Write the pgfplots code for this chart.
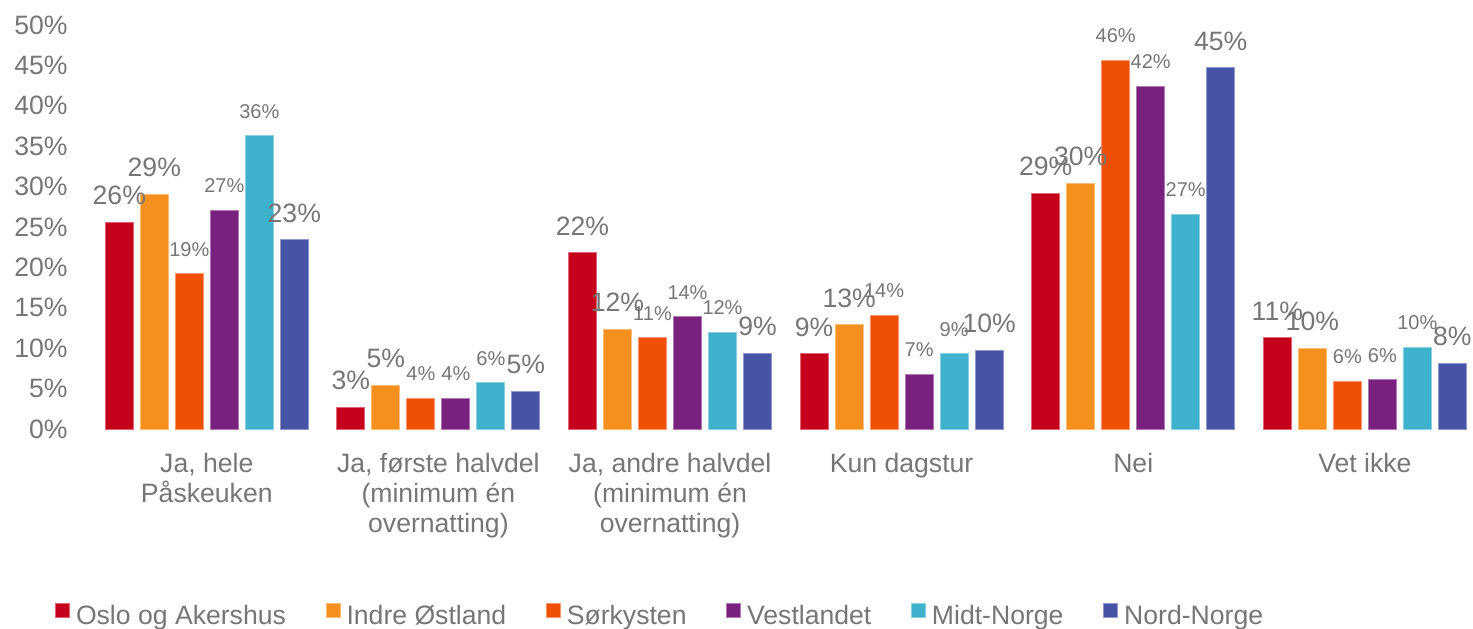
\documentclass[border=0pt]{standalone}
\usepackage{pgfplots}
\pgfplotsset{compat=1.18}
\usepackage{fontspec}
\setmainfont{Liberation Sans}
\definecolor{oslo}{HTML}{C5001A}
\definecolor{indre}{HTML}{F5901F}
\definecolor{sor}{HTML}{F05006}
\definecolor{vest}{HTML}{7A2180}
\definecolor{midt}{HTML}{3EB1CC}
\definecolor{nord}{HTML}{4754A5}
\definecolor{txt}{HTML}{767676}
\newcommand{\lab}{\fontsize{13.3}{15}\selectfont}
\newcommand{\slab}{\fontsize{10}{12}\selectfont}
\begin{document}
\begin{tikzpicture}
\begin{axis}[
  scale only axis, width=691pt, height=202pt,
  ymin=0, ymax=50, xmin=-0.5, xmax=5.467,
  ybar=3.5pt, bar width=14pt,
  axis line style={draw=none}, major tick length=0pt,
  ytick={0,5,...,50},
  yticklabels={0\%,5\%,10\%,15\%,20\%,25\%,30\%,35\%,40\%,45\%,50\%},
  yticklabel style={font=\lab, text=txt, inner sep=0pt, anchor=east},
  yticklabel shift=11.5pt,
  xtick={0,...,5},
  xticklabels={{Ja, hele\\Påskeuken},{Ja, første halvdel\\(minimum én\\overnatting)},{Ja, andre halvdel\\(minimum én\\overnatting)},{Kun dagstur},{Nei},{Vet ikke}},
  xticklabel style={font=\lab, text=txt, align=center, inner sep=0pt, anchor=north},
  xticklabel shift=12pt,
  point meta=y,
  nodes near coords={\pgfmathprintnumber{\pgfplotspointmeta}\%},
  nodes near coords style={text=txt, inner sep=0pt, anchor=south, yshift=8.5pt},
  /pgf/number format/fixed, /pgf/number format/precision=0, /pgf/number format/assume math mode=true,
  clip=false,
  legend columns=6,
  legend style={at={(-0.02605,-0.4604)}, anchor=west, draw=none, fill=none, inner sep=0pt, outer sep=0pt, font=\lab, text=txt,
    nodes={inner sep=0pt},
    /tikz/every odd column/.append style={column sep=3pt},
    /tikz/every even column/.append style={column sep=19.8pt}},
  legend image code/.code={\fill[#1] (0pt,-0.5pt) rectangle (7pt,6.5pt);},
]
\addplot[fill=oslo, draw=oslo!60!white, line width=0.5pt, every node near coord/.append style={font=\lab}] coordinates {(0,25.6)(1,2.7)(2,21.8)(3,9.3)(4,29.2)(5,11.3)};
\addplot[fill=indre, draw=indre!60!white, line width=0.5pt, every node near coord/.append style={font=\lab}] coordinates {(0,29.0)(1,5.4)(2,12.3)(3,12.9)(4,30.4)(5,10.0)};
\addplot[fill=sor, draw=sor!60!white, line width=0.5pt, every node near coord/.append style={font=\slab}] coordinates {(0,19.2)(1,3.8)(2,11.3)(3,14.1)(4,45.6)(5,5.9)};
\addplot[fill=vest, draw=vest!60!white, line width=0.5pt, every node near coord/.append style={font=\slab}] coordinates {(0,27.1)(1,3.8)(2,13.9)(3,6.8)(4,42.4)(5,6.1)};
\addplot[fill=midt, draw=midt!60!white, line width=0.5pt, every node near coord/.append style={font=\slab}] coordinates {(0,36.3)(1,5.7)(2,12.0)(3,9.3)(4,26.6)(5,10.1)};
\addplot[fill=nord, draw=nord!60!white, line width=0.5pt, every node near coord/.append style={font=\lab}] coordinates {(0,23.4)(1,4.7)(2,9.4)(3,9.7)(4,44.7)(5,8.1)};
\legend{Oslo og Akershus,Indre Østland,Sørkysten,Vestlandet,Midt-Norge,Nord-Norge}
\end{axis}
\pgfresetboundingbox
\path[use as bounding box] (-45.5pt,-99.5pt) rectangle (691pt,214.5pt);
\end{tikzpicture}
\end{document}
